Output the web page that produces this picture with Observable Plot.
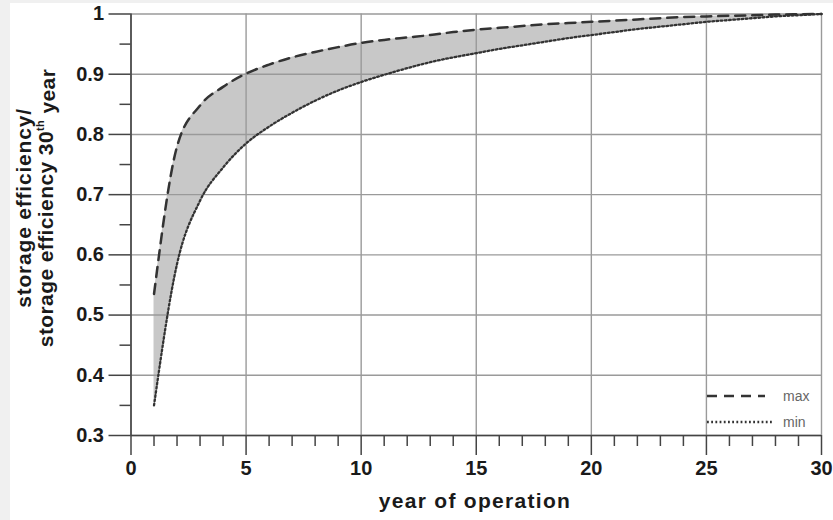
<!DOCTYPE html>
<html><head><meta charset="utf-8">
<script src="https://cdn.jsdelivr.net/npm/d3@7"></script>
<script src="https://cdn.jsdelivr.net/npm/@observablehq/plot@0.6"></script>
<style>
html,body{margin:0;padding:0;background:#f0f0f0;width:833px;height:520px;overflow:hidden}
#wrap{position:absolute;left:10px;top:3px;width:823px;height:517px;background:#fff;overflow:hidden}
</style></head><body><div id="wrap"></div>
<script>
// year of operation
const years = [1,2,3,4,5,6,7,8,9,10,11,12,13,14,15,16,17,18,19,20,21,22,23,24,25,26,27,28,29,30];
// storage efficiency / storage efficiency 30th year
const maxValues = [0.535,0.78,0.848,0.879,0.901,0.916,0.928,0.937,0.945,0.952,0.957,0.961,0.965,0.970,0.974,0.977,0.980,0.983,0.985,0.987,0.989,0.991,0.993,0.995,0.996,0.997,0.998,0.999,0.9995,1.0];
const minValues = [0.35,0.585,0.69,0.745,0.785,0.813,0.836,0.856,0.873,0.887,0.899,0.910,0.920,0.928,0.935,0.942,0.948,0.954,0.960,0.965,0.970,0.975,0.979,0.983,0.987,0.990,0.993,0.996,0.998,1.0];
const xTicks = [0,5,10,15,20,25,30];
const xMinorTicks = [1,2,3,4,6,7,8,9,11,12,13,14,16,17,18,19,21,22,23,24,26,27,28,29];
const yTicks = [0.3,0.4,0.5,0.6,0.7,0.8,0.9,1];
const yTickLabels = ["0.3","0.4","0.5","0.6","0.7","0.8","0.9","1"];
const yMinorTicks = [0.35,0.45,0.55,0.65,0.75,0.85,0.95];
const legendLabels = ["max","min"];
const xTitle = "year of operation";
const yTitleLine1 = "storage efficiency/";

const data = years.map((y, i) => ({year: y, max: maxValues[i], min: minValues[i]}));
const font = "'Liberation Sans', Arial, Helvetica, sans-serif";
const dashes = {max: "10,7", min: "1.8,2.4"};

const legendMark = (index, scales, values, dim) => {
  const g = d3.create("svg:g");
  const right = dim.width - dim.marginRight;
  const bottom = dim.height - dim.marginBottom;
  const rows = [
    {label: legendLabels[0], y: bottom - 39, x2: right - 56, dash: dashes.max, w: 2.5, c: "#333"},
    {label: legendLabels[1], y: bottom - 13, x2: right - 49, dash: dashes.min, w: 2.3, c: "#333"}
  ];
  for (const r of rows) {
    g.append("line").attr("x1", right - 114).attr("x2", r.x2).attr("y1", r.y).attr("y2", r.y)
      .attr("stroke", r.c).attr("stroke-width", r.w).attr("stroke-dasharray", r.dash);
    g.append("text").attr("x", right - 38).attr("y", r.y).attr("dy", "0.35em").attr("text-anchor", "start")
      .attr("font-size", 14).attr("fill", "#666").attr("font-family", font).text(r.label);
  }
  return g.node();
};

const chart = Plot.plot({
  width: 823, height: 517,
  marginLeft: 120.5, marginRight: 12, marginTop: 10.5, marginBottom: 85,
  style: {background: "#fff", fontFamily: font, overflow: "visible"},
  x: {domain: [0, 30]},
  y: {domain: [0.3, 1]},
  marks: [
    Plot.areaY(data, {x: "year", y1: "min", y2: "max", fill: "#c8c8c8", curve: "monotone-x"}),
    Plot.gridX(xTicks, {stroke: "#9a9a9a", strokeOpacity: 1, strokeWidth: 1.4}),
    Plot.gridY(yTicks, {stroke: "#9a9a9a", strokeOpacity: 1, strokeWidth: 1.4}),
    Plot.lineY(data, {x: "year", y: "min", stroke: "#333", strokeWidth: 2.3, strokeDasharray: dashes.min, curve: "monotone-x"}),
    Plot.lineY(data, {x: "year", y: "max", stroke: "#333", strokeWidth: 2.5, strokeDasharray: dashes.max, curve: "monotone-x"}),
    Plot.ruleX([0], {stroke: "#444", strokeWidth: 1.6}),
    Plot.ruleY([0.3], {stroke: "#444", strokeWidth: 1.6}),
    Plot.axisX(xTicks, {tickSize: 20, tickPadding: 5, fontSize: 20, fontWeight: "bold", fill: "#1a1a1a", stroke: "#444", strokeWidth: 1.5, label: null}),
    Plot.axisX(xMinorTicks, {tickSize: 11, tickFormat: () => "", stroke: "#444", strokeWidth: 1.5, label: null}),
    Plot.axisY(yTicks, {tickSize: 22, tickPadding: 5, fontSize: 20, fontWeight: "bold", fill: "#1a1a1a", stroke: "#444", strokeWidth: 1.5, label: null, tickFormat: (d) => yTickLabels[yTicks.indexOf(d)]}),
    Plot.axisY(yMinorTicks, {tickSize: 11, tickFormat: () => "", stroke: "#444", strokeWidth: 1.5, label: null}),
    legendMark
  ]
});

const svg = d3.select(chart);
svg.append("text").attr("x", 465).attr("y", 505).attr("text-anchor", "middle")
  .attr("font-size", 21).attr("letter-spacing", "1.3px").attr("font-weight", "bold").attr("fill", "#1a1a1a").attr("font-family", font)
  .text(xTitle);
svg.append("text").attr("transform", "translate(21,205) rotate(-90)").attr("text-anchor", "middle")
  .attr("font-size", 21).attr("letter-spacing", "0.8px").attr("font-weight", "bold").attr("fill", "#1a1a1a").attr("font-family", font)
  .text(yTitleLine1);
const t2 = svg.append("text").attr("transform", "translate(43,205) rotate(-90)").attr("text-anchor", "middle")
  .attr("font-size", 21).attr("letter-spacing", "0.4px").attr("font-weight", "bold").attr("fill", "#1a1a1a").attr("font-family", font);
t2.append("tspan").text("storage efficiency 30");
t2.append("tspan").attr("font-size", 11).attr("dy", "-0.8em").text("th");
t2.append("tspan").attr("dy", "0.5em").text(" year");

document.getElementById("wrap").appendChild(chart);
</script>
</body></html>
